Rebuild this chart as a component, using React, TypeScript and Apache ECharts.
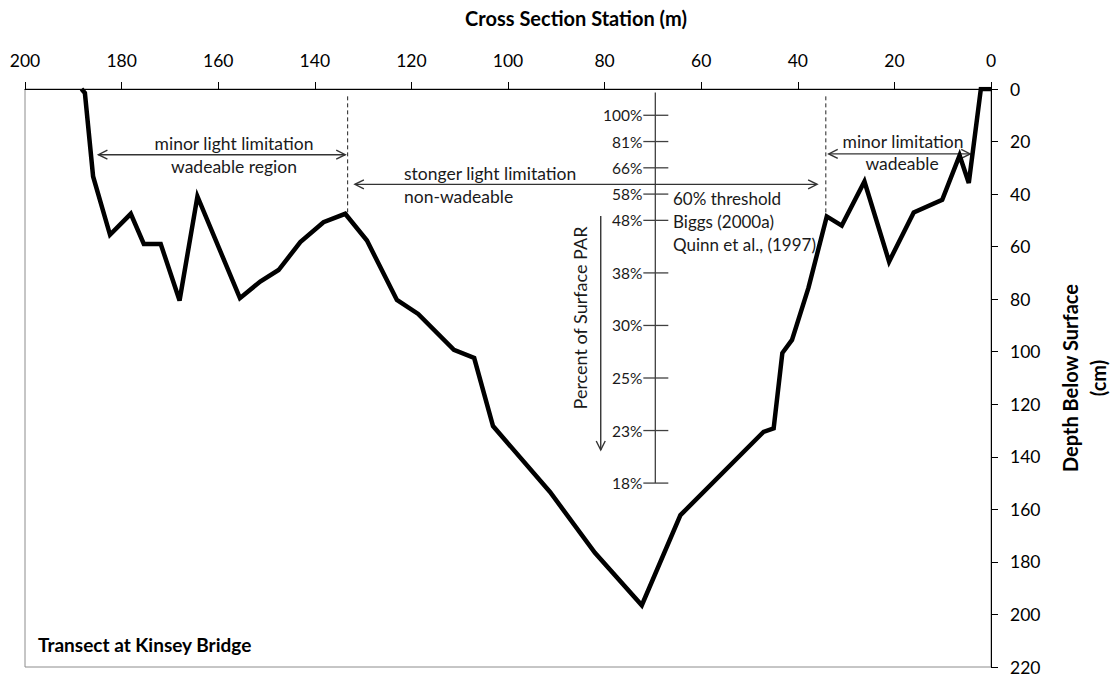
import React, { useEffect, useRef } from "react";
import * as echarts from "echarts";

// Cross-section profile (station in m, depth in cm)
const stations = [188.3, 187.6, 185.9, 182.4, 178.1, 175.4, 171.9, 168.0, 164.3, 155.5, 151.3, 147.5, 143.0, 138.2, 133.7, 129.2, 123.0, 118.6, 111.2, 107.0, 103.1, 91.3, 82.0, 72.3, 64.3, 47.1, 45.0, 43.2, 41.2, 37.8, 34.0, 30.9, 26.2, 21.1, 16.0, 10.1, 6.5, 4.6, 2.1, 0];
const depths = [0, 1.5, 33.3, 55.5, 47.5, 59.0, 59.0, 80.5, 40.9, 79.6, 73.3, 68.9, 58.3, 50.7, 47.5, 57.7, 80.3, 85.6, 99.3, 102.4, 128.3, 153.4, 176.5, 196.5, 162.2, 130.5, 129.2, 100.5, 95.5, 75.7, 48.5, 52.0, 35.2, 65.7, 47.0, 42.2, 25.3, 35.8, 0, 0];

// Percent of surface PAR scale
const parStation = 69.5;
const parDepths = [10, 20, 30, 40, 50, 70, 90, 110, 130, 150];
const parLabels = ["100%", "81%", "66%", "58%", "48%", "38%", "30%", "25%", "23%", "18%"];
const parLineDepths = [1.3, 150];

// Annotation arrows: [x1, y1, x2, y2, headStart, headEnd]
const arrows = [
  [184.8, 25.0, 133.7, 25.0, 1, 1],
  [131.7, 36.3, 36.0, 36.3, 1, 1],
  [33.6, 24.7, 4.3, 24.7, 1, 1],
  [80.8, 48.3, 80.8, 137.4, 0, 1],
];
// Dashed boundaries: [station, depthTop, depthBottom]
const dashed = [
  [133.2, 2.8, 47.5],
  [34.2, 2.8, 48.5],
];

const xTicks = { min: 0, max: 200, interval: 20 };
const yTicks = { min: 0, max: 220, interval: 20 };

const FONT = "Lato";

export default function App() {
  const ref = useRef<HTMLDivElement>(null);
  useEffect(() => {
    if (!ref.current) return;
    const chart = echarts.init(ref.current, null, { renderer: "svg" });
    const profile = stations.map((s, i) => [s, depths[i]]);
    const parTicks = parDepths.map((d, i) => [parStation, d, i]);
    const parLine = parLineDepths.map((d) => [parStation, d]);

    const txt = (text: string, x: number, y: number, opts: any = {}) => ({
      type: "text",
      x,
      y,
      rotation: opts.rotation || 0,
      silent: true,
      style: {
        text,
        align: opts.align || "center",
        textAlign: opts.align || "center",
        verticalAlign: "middle",
        textVerticalAlign: "middle",
        fontFamily: FONT,
        fontSize: opts.size || 17.5,
        fontWeight: opts.bold ? "bold" : "normal",
        lineHeight: opts.lineHeight || 22,
        fill: opts.fill || "#1a1a1a",
      },
    });

    const option: any = {
      animation: false,
      backgroundColor: "#fff",
      grid: {
        left: 25,
        right: 124,
        top: 89,
        bottom: 10,
        show: true,
        borderColor: "#8c8c8c",
        borderWidth: 1,
      },
      xAxis: {
        type: "value",
        position: "top",
        inverse: true,
        ...xTicks,
        axisLine: { show: true, lineStyle: { color: "#000", width: 1 } },
        axisTick: { show: true, inside: false, length: 7, lineStyle: { color: "#000" } },
        axisLabel: { fontFamily: FONT, fontSize: 17.5, color: "#000", margin: 20, showMinLabel: true, showMaxLabel: true },
        splitLine: { show: false },
      },
      yAxis: {
        type: "value",
        position: "right",
        inverse: true,
        ...yTicks,
        axisLine: { show: true, lineStyle: { color: "#000", width: 1 } },
        axisTick: { show: true, inside: false, length: 7, lineStyle: { color: "#000" } },
        axisLabel: { fontFamily: FONT, fontSize: 17.5, color: "#000", margin: 19, showMinLabel: true, showMaxLabel: true },
        splitLine: { show: false },
      },
      series: [
        {
          type: "line",
          data: profile,
          symbol: "none",
          lineStyle: { color: "#000", width: 4.5, join: "miter" },
          z: 5,
        },
        {
          type: "line",
          data: parLine,
          symbol: "none",
          lineStyle: { color: "#404040", width: 1.3 },
          z: 3,
        },
        {
          type: "custom",
          data: parTicks,
          encode: { x: 0, y: 1 },
          z: 3,
          renderItem: (params: any, api: any) => {
            const c = api.coord([api.value(0), api.value(1)]);
            const label = parLabels[api.value(2)];
            return {
              type: "group",
              children: [
                {
                  type: "line",
                  shape: { x1: c[0] - 12, y1: c[1], x2: c[0] + 13, y2: c[1] },
                  style: { stroke: "#404040", lineWidth: 1.3 },
                },
                {
                  type: "text",
                  x: c[0] - 13,
                  y: c[1],
                  style: {
                    text: label,
                    align: "right",
                    textAlign: "right",
                    verticalAlign: "middle",
                    textVerticalAlign: "middle",
                    fontFamily: FONT,
                    fontSize: 15.5,
                    fill: "#1a1a1a",
                  },
                },
              ],
            };
          },
        },
        {
          type: "custom",
          data: arrows,
          encode: { x: [0, 2], y: [1, 3] },
          z: 4,
          renderItem: (params: any, api: any) => {
            const p1 = api.coord([api.value(0), api.value(1)]);
            const p2 = api.coord([api.value(2), api.value(3)]);
            const dx = p2[0] - p1[0];
            const dy = p2[1] - p1[1];
            const len = Math.sqrt(dx * dx + dy * dy) || 1;
            const ux = dx / len;
            const uy = dy / len;
            const L = 9;
            const W = 4.5;
            const head = (tip: number[], dirx: number, diry: number) => ({
              type: "polyline",
              shape: {
                points: [
                  [tip[0] - dirx * L - diry * W, tip[1] - diry * L + dirx * W],
                  tip,
                  [tip[0] - dirx * L + diry * W, tip[1] - diry * L - dirx * W],
                ],
              },
              style: { stroke: "#333", lineWidth: 1.4, fill: null },
            });
            const children: any[] = [
              {
                type: "line",
                shape: { x1: p1[0], y1: p1[1], x2: p2[0], y2: p2[1] },
                style: { stroke: "#333", lineWidth: 1.4 },
              },
            ];
            if (api.value(4)) children.push(head(p1, -ux, -uy));
            if (api.value(5)) children.push(head(p2, ux, uy));
            return { type: "group", children };
          },
        },
        {
          type: "custom",
          data: dashed,
          encode: { x: 0, y: [1, 2] },
          z: 4,
          renderItem: (params: any, api: any) => {
            const a = api.coord([api.value(0), api.value(1)]);
            const b = api.coord([api.value(0), api.value(2)]);
            return {
              type: "line",
              shape: { x1: a[0], y1: a[1], x2: b[0], y2: b[1] },
              style: { stroke: "#222", lineWidth: 1, lineDash: [4, 3] },
            };
          },
        },
      ],
      graphic: [
        txt("Cross Section Station (m)", 576, 18, { bold: true, size: 20, fill: "#000" }),
        txt("Depth Below Surface\n(cm)", 1084, 378, { bold: true, size: 20, fill: "#000", rotation: Math.PI / 2, lineHeight: 28 }),
        txt("Transect at Kinsey Bridge", 38, 644, { bold: true, size: 19, fill: "#000", align: "left" }),
        txt("minor light limitation", 234, 143),
        txt("wadeable region", 234, 166),
        txt("stonger light limitation", 404, 173, { align: "left" }),
        txt("non-wadeable", 404, 196, { align: "left" }),
        txt("minor limitation", 903, 141),
        txt("wadeable", 902, 163),
        txt("60% threshold", 673, 198.5, { align: "left", size: 17 }),
        txt("Biggs (2000a)", 673, 221.5, { align: "left", size: 17 }),
        txt("Quinn et al., (1997)", 673, 244, { align: "left", size: 17 }),
        txt("Percent of Surface PAR", 580, 318, { rotation: Math.PI / 2, size: 18 }),
      ],
    };
    chart.setOption(option);
    return () => chart.dispose();
  }, []);
  return (
    <div
      ref={ref}
      style={{ position: "absolute", left: 0, top: 0, width: 1115, height: 677, background: "#fff" }}
    />
  );
}
